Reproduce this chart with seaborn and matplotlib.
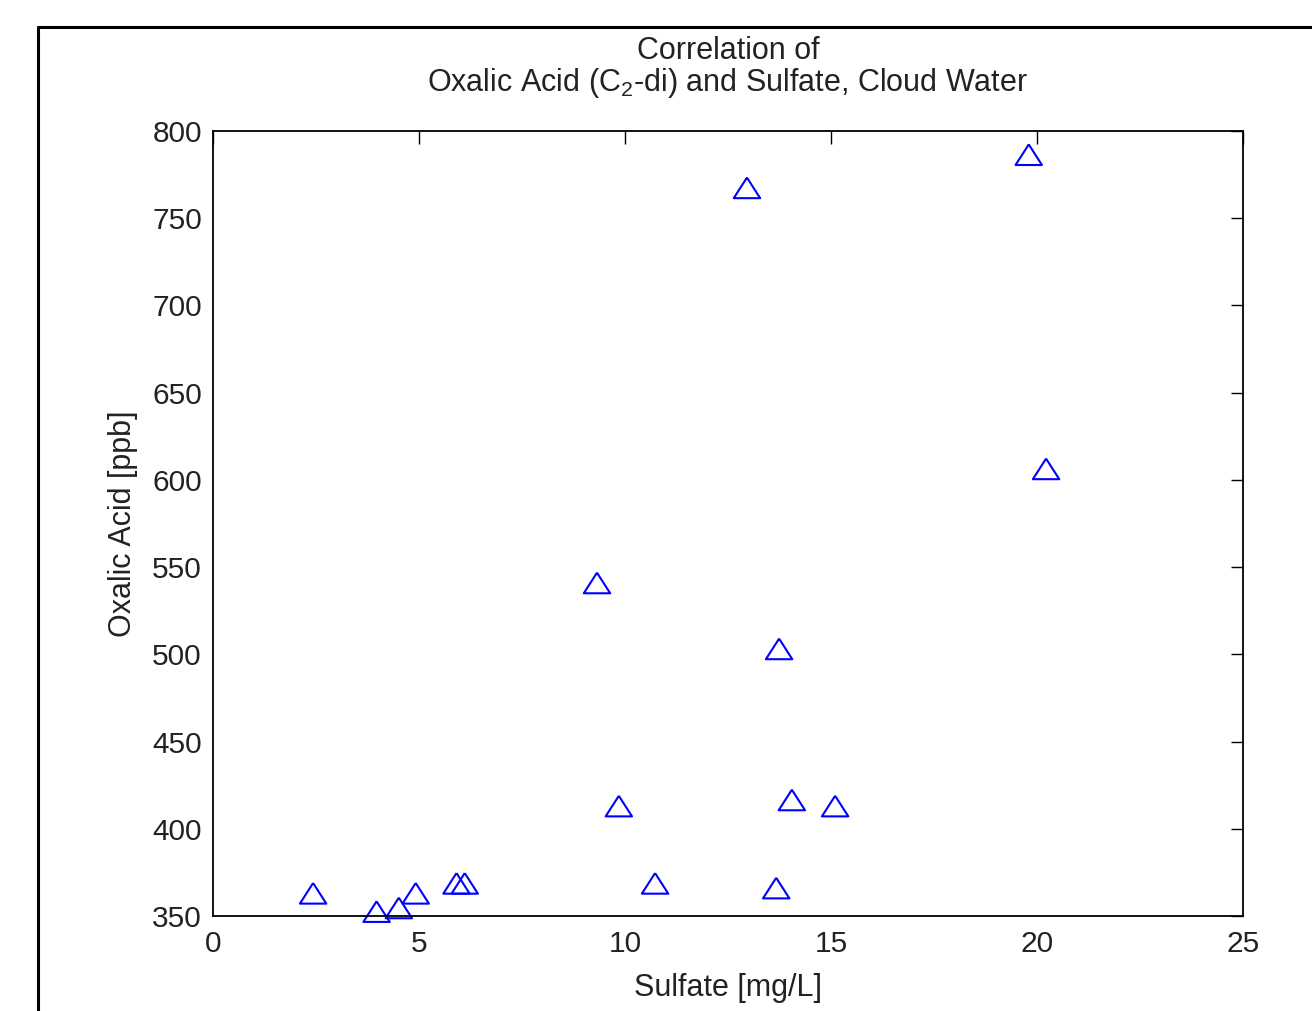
import matplotlib
matplotlib.use("Agg")
import matplotlib.pyplot as plt
import seaborn as sns
import pandas as pd
from matplotlib.lines import Line2D

sulfate = [2.43, 3.97, 4.51, 4.92, 5.91, 6.11, 9.32, 9.85, 10.73, 12.96,
           13.67, 13.74, 14.05, 15.10, 19.80, 20.22]
oxalic = [363, 352.5, 354.6, 363, 368.7, 368.7, 540.9, 413, 368.7, 767.4,
          366, 503.1, 416.5, 413, 786.4, 606.3]
x_ticks = [0, 5, 10, 15, 20, 25]
y_ticks = [350, 400, 450, 500, 550, 600, 650, 700, 750, 800]

sns.set_style("white")
plt.rcParams['font.family'] = ['Liberation Sans', 'DejaVu Sans']
plt.rcParams['mathtext.default'] = 'regular'

W, H = 1312, 1011
fig = plt.figure(figsize=(W / 100, H / 100), dpi=100)
fig.patch.set_facecolor('white')
ax = fig.add_axes([213 / W, 1 - 916 / H, (1243 - 213) / W, (916 - 131) / H])

df = pd.DataFrame({"Sulfate": sulfate, "Oxalic": oxalic})
tri = [(0, 0.78), (-1, -0.78), (1, -0.78), (0, 0.78)]
sns.scatterplot(data=df, x="Sulfate", y="Oxalic", ax=ax, marker=tri, s=19 ** 2,
                facecolors='none', edgecolors='blue', linewidth=1.5, clip_on=False,
                legend=False)

ax.set_xlim(0, 25)
ax.set_ylim(350, 800)
ax.set_xticks(x_ticks)
ax.set_yticks(y_ticks)
ax.set_xticklabels([str(t) for t in x_ticks])
ax.set_yticklabels([str(t) for t in y_ticks])
ax.tick_params(direction='in', length=9, width=1.0, color='black', labelsize=21.5,
               top=True, right=True, labelcolor='#222222')
ax.tick_params(axis='x', pad=10)
ax.tick_params(axis='y', pad=8)
for sp in ax.spines.values():
    sp.set_visible(True)
    sp.set_color('black')
    sp.set_linewidth(1.3)

ax.set_xlabel("Sulfate [mg/L]", fontsize=22, labelpad=11, color='#222222')
ax.set_ylabel("Oxalic Acid [ppb]", fontsize=22, labelpad=10, color='#222222')
ax.set_title("Correlation of\nOxalic Acid (C$_2$-di) and Sulfate, Cloud Water",
             fontsize=22, pad=28.5, color='#222222', linespacing=1.03)

# outer frame (partially cropped figure border)
fx = 38 / W
fy = 1 - 27 / H
fig.add_artist(Line2D([fx, fx], [-0.01, fy], transform=fig.transFigure,
                      color='black', linewidth=2.2))
fig.add_artist(Line2D([fx, 1.01], [fy, fy], transform=fig.transFigure,
                      color='black', linewidth=2.2))

fig.savefig("out.png", dpi=100, facecolor='white')
